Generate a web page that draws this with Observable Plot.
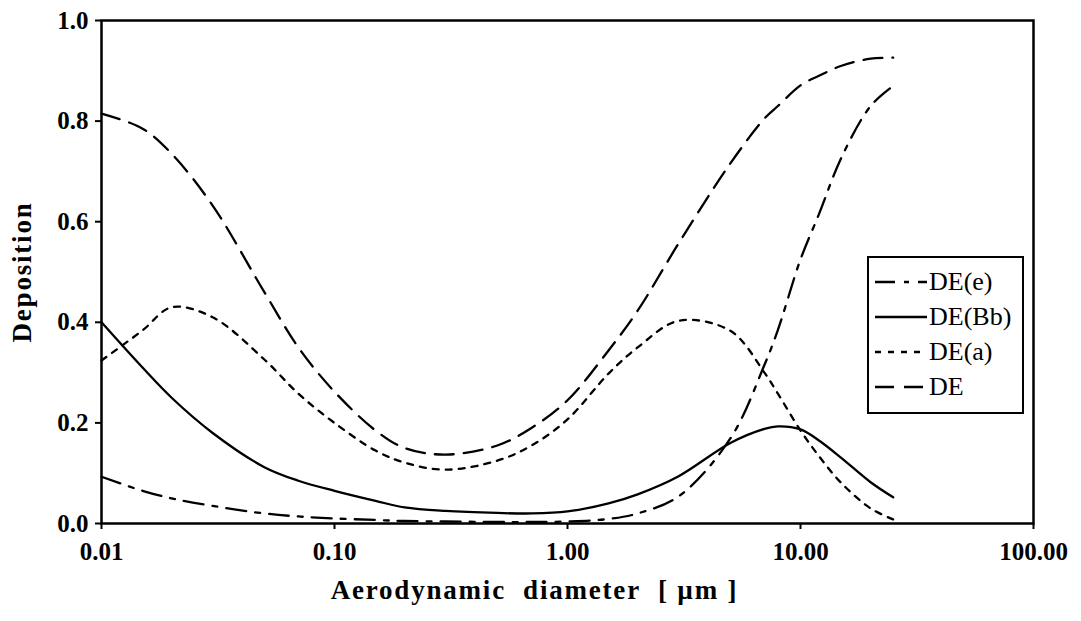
<!DOCTYPE html>
<html>
<head>
<meta charset="utf-8">
<script src="https://cdn.jsdelivr.net/npm/d3@7"></script>
<script src="https://cdn.jsdelivr.net/npm/@observablehq/plot@0.6"></script>
<style>
  body { margin: 0; background: #fff; }
  #wrap { position: relative; width: 1081px; height: 621px; overflow: hidden; }
  #legend {
    position: absolute; left: 867px; top: 256px; width: 157px; height: 158px;
    box-sizing: border-box; border: 2.5px solid #000; background: #fff;
    font-family: 'Liberation Serif', 'Times New Roman', serif; font-size: 26px; color: #000;
    padding-top: 6px;
  }
  .row { display: flex; align-items: center; height: 35px; padding-left: 6px; }
  .row svg { flex: none; margin-right: 2px; }
  svg text { font-family: 'Liberation Serif', 'Times New Roman', serif; }
</style>
</head>
<body>
<div id="wrap">
  <div id="chart"></div>
  <div id="legend"></div>
</div>
<script>
// Aerodynamic diameter [µm]
const diameter = [0.01, 0.015, 0.02, 0.03, 0.05, 0.07, 0.1, 0.15, 0.2, 0.3, 0.5, 0.7, 1, 1.5, 2, 3, 5, 7, 8, 10, 12, 15, 20, 25];
// Deposition fractions
const deE  = [0.093, 0.065, 0.050, 0.035, 0.020, 0.014, 0.010, 0.007, 0.005, 0.004, 0.003, 0.003, 0.004, 0.009, 0.020, 0.054, 0.169, 0.315, 0.385, 0.525, 0.615, 0.728, 0.83, 0.87];
const deBb = [0.400, 0.310, 0.250, 0.180, 0.112, 0.085, 0.065, 0.045, 0.032, 0.025, 0.021, 0.020, 0.024, 0.040, 0.058, 0.094, 0.160, 0.188, 0.193, 0.187, 0.165, 0.130, 0.082, 0.052];
const deA  = [0.324, 0.384, 0.430, 0.410, 0.326, 0.258, 0.200, 0.145, 0.121, 0.107, 0.125, 0.155, 0.207, 0.298, 0.350, 0.403, 0.383, 0.300, 0.258, 0.185, 0.134, 0.080, 0.030, 0.008];
const deTot= [0.815, 0.785, 0.735, 0.632, 0.460, 0.350, 0.262, 0.185, 0.150, 0.137, 0.155, 0.190, 0.245, 0.344, 0.423, 0.557, 0.716, 0.805, 0.830, 0.871, 0.890, 0.910, 0.924, 0.926];

const seriesNames = ["DE(e)", "DE(Bb)", "DE(a)", "DE"];
const seriesValues = [deE, deBb, deA, deTot];
const seriesDash = ["20,9,5,9", null, "6,7", "19,10"];

const xTicks = [0.01, 0.1, 1, 10, 100];
const xTickLabels = ["0.01", "0.10", "1.00", "10.00", "100.00"];
const yTicks = [0, 0.2, 0.4, 0.6, 0.8, 1.0];

const rows = [];
seriesNames.forEach((name, s) => {
  diameter.forEach((d, i) => rows.push({series: name, d, v: seriesValues[s][i]}));
});

const font = "'Liberation Serif', 'Times New Roman', serif";
const xLabel = d => xTickLabels[Math.round(Math.log10(d)) + 2];

const chart = Plot.plot({
  width: 1081,
  height: 621,
  marginLeft: 101,
  marginRight: 48,
  marginTop: 20,
  marginBottom: 98,
  x: {type: "log", domain: [0.01, 100]},
  y: {domain: [0, 1]},
  style: {fontFamily: font, color: "#000", background: "#fff", fontSize: "25px", overflow: "visible"},
  marks: [
    Plot.axisY({ticks: yTicks, tickFormat: d => d.toFixed(1), tickSize: 6, tickPadding: 7,
      strokeWidth: 2, fontWeight: "bold", fontSize: 25, label: null}),
    Plot.axisX({ticks: xTicks, tickFormat: xLabel, tickSize: 6, tickPadding: 13,
      strokeWidth: 2, fontWeight: "bold", fontSize: 25, label: null}),
    ...seriesNames.map((name, s) =>
      Plot.line(rows.filter(r => r.series === name), {
        x: "d", y: "v", stroke: "#000", strokeWidth: 2.3,
        strokeDasharray: seriesDash[s] || undefined,
        curve: "catmull-rom"
      })
    ),
    Plot.frame({stroke: "#000", strokeWidth: 2.5}),
    Plot.text(["Deposition"], {frameAnchor: "left", dx: -79, rotate: -90, fontSize: 27,
      fontWeight: "bold", textAnchor: "middle", fill: "#000"}),
    Plot.text(["Aerodynamic\u00a0 diameter\u00a0 [ µm ]"], {frameAnchor: "bottom", dx: -33, dy: 75, fontSize: 27,
      fontWeight: "bold", textAnchor: "middle", fill: "#000"})
  ]
});
document.getElementById("chart").appendChild(chart);
d3.select(chart).selectAll("text").filter(function() {
  const t = this.textContent; return t === "Deposition" || t.startsWith("Aerodynamic");
}).style("letter-spacing", "1.8px");

// Legend
const legend = d3.select("#legend");
seriesNames.forEach((name, s) => {
  const row = legend.append("div").attr("class", "row");
  const svg = row.append("svg").attr("width", 52).attr("height", 20);
  svg.append("line").attr("x1", 0).attr("x2", 52).attr("y1", 10).attr("y2", 10)
    .attr("stroke", "#000").attr("stroke-width", 2.5)
    .attr("stroke-dasharray", seriesDash[s]);
  row.append("span").text(name);
});
</script>
</body>
</html>
